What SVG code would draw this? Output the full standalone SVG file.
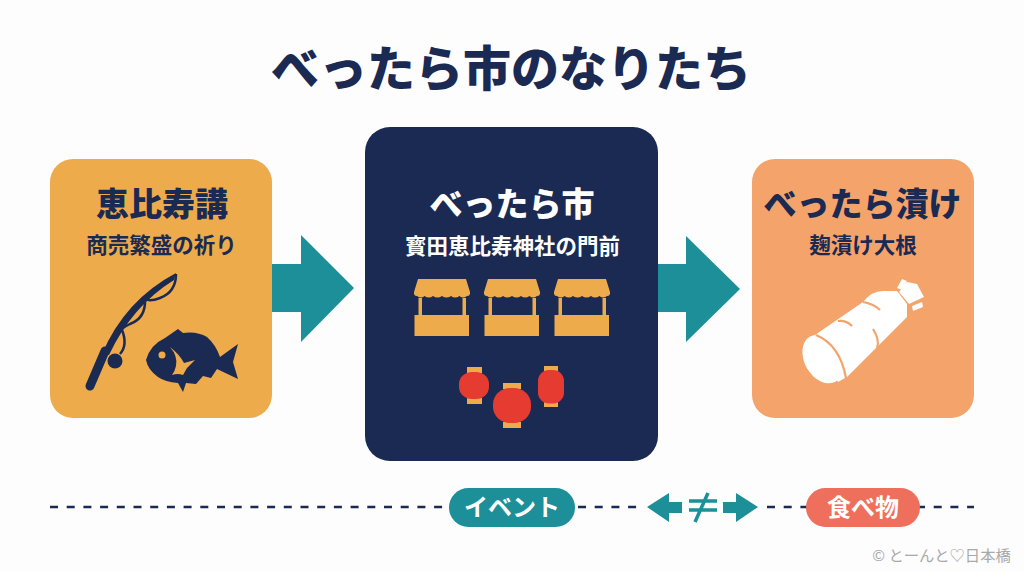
<svg xmlns="http://www.w3.org/2000/svg" width="1024" height="572" viewBox="0 0 1024 572">
<style>
text{font-family:"Noto Sans CJK JP","Noto Sans",sans-serif;text-anchor:middle}
.b{font-weight:900}
.navy{fill:#1b2a52}.wh{fill:#fff}.or{fill:#eeab4b}.teal{fill:#1c8f98}.red{fill:#e53b30}
.t{font-size:33px;font-weight:900}
.s{font-size:21.500px;font-weight:700}
.p{font-size:24px;font-weight:700}
.dash{fill:none;stroke:#1b2a52;stroke-width:2.400;stroke-dasharray:8 8.700}
</style>
<defs>
<g id="stall">
<path class="or" d="M418 279H466L470 292Q470.500 296 467 296Q463 299 459.500 296Q455 299 451 296Q446.500 299 442 296Q437.500 299 433 296Q429 299 424.500 296Q421 299 417 296Q413.500 296 414 292Z"/>
<rect class="or" x="418.500" y="298" width="3.500" height="18"/>
<rect class="or" x="462.500" y="298" width="3.500" height="18"/>
<rect class="or" x="414.500" y="315" width="54.500" height="21"/>
</g>
</defs>
<rect width="1024" height="572" fill="#fdfdfe"/>
<text id="title" class="b navy" x="511" y="86" font-size="48">べったら市のなりたち</text>
<g id="connectors">
<path class="teal" d="M272 264H301V235L354 288L301 342V312H272Z"/>
<path class="teal" d="M658 264H686V236L740 289L686 342V312H658Z"/>
<path class="dash" d="M50 507H452M578 507H637M767 507H808M917 507H974"/>
</g>
<g id="node-ebisuko">
<rect class="or" x="50" y="159" width="222" height="259" rx="23"/>
<text class="t navy" x="162" y="216">恵比寿講</text>
<text class="s navy" x="161.500" y="253">商売繁盛の祈り</text>
<g id="rod">
<path d="M90 386L105 351" fill="none" stroke="#1b2a52" stroke-width="9" stroke-linecap="round"/>
<path d="M102 354Q125 300 176 273L174 280Q132 306 109 355Z" class="navy"/>
<path d="M176 274Q176 292 160 298Q150 302 145 299M145 299Q146 318 130 324Q122 328 120 331M122 330Q128 345 120 354" fill="none" stroke="#1b2a52" stroke-width="2.500"/>
<circle class="navy" cx="115" cy="361" r="7.500"/>
</g>
<g id="fish">
<path class="navy" d="M146 360Q150 345 165 338L178 329L183 333Q197 331 207 337Q216 345 220 357L238 344L233 362L238 379L217 369L211 378L203 376L196 384L186 383L183 392L178 383Q165 382 158 377Q148 370 146 360Z"/>
<circle cx="162" cy="355" r="3.500" fill="#eeab4b"/>
<path d="M170 347Q178 356 176 366Q175 371 172 375Q178 373 183 375L187 368L195 360L184 363Q180 355 170 347Z" fill="#eeab4b"/>
</g>
</g>
<g id="node-market">
<rect class="navy" x="365" y="127" width="293" height="334" rx="25"/>
<text class="t wh" x="512" y="216">べったら市</text>
<text class="s wh" x="512.500" y="254">寳田恵比寿神社の門前</text>
<use href="#stall"/>
<use href="#stall" x="70"/>
<use href="#stall" x="140"/>
<g id="lanterns">
<rect class="or" x="467" y="367" width="15" height="6"/><rect class="or" x="467" y="398" width="15" height="6"/>
<rect class="red" x="459" y="372" width="30" height="27" rx="13" ry="12"/>
<rect class="or" x="503" y="383" width="18" height="6"/><rect class="or" x="503" y="422" width="18" height="6"/>
<rect class="red" x="493" y="388" width="38" height="35" rx="17" ry="16"/>
<rect class="or" x="544" y="366" width="14" height="5"/><rect class="or" x="544" y="402" width="14" height="5"/>
<rect class="red" x="538" y="370" width="26" height="33.500" rx="11"/>
</g>
</g>
<g id="node-tsuke">
<rect x="752" y="159" width="222" height="259" rx="23" fill="#f4a36b"/>
<text class="t navy" x="862.500" y="216">べったら漬け</text>
<text class="s navy" x="863" y="253">麹漬け大根</text>
<g id="daikon">
<path class="wh" d="M815 335L863 302Q872 290 885 291L897 291L907 304L907 317L847 377L838 382Z"/>
<ellipse cx="823" cy="359" rx="18.500" ry="26" transform="rotate(-30 823 359)" class="wh"/>
<path d="M816 335Q840 345 846 378" fill="none" stroke="#f4a36b" stroke-width="2.200"/>
<path d="M863 302Q874 304 880 310M838 321Q846 320 852 326M873 329Q880 340 877 348" fill="none" stroke="#f4a36b" stroke-width="2.200"/>
<path class="wh" d="M899 292L907 282L917 284L924 297L909 304ZM897 288L902 279L907 281L902 290ZM912 306L922 302L923 307L913 311Z"/>
</g>
</g>
<g id="pill-event">
<rect x="449" y="488" width="126" height="39" rx="19.500" fill="#1c8f98"/>
<text class="wh p" x="512" y="516">イベント</text>
</g>
<g id="not-equal">
<path class="teal" d="M647 507L669 493V502H682V513H669V522Z"/>
<path class="teal" d="M758 507L736 493V502H723V513H736V522Z"/>
<path d="M689 501H717M689 510H717M708 493L695 522" fill="none" stroke="#1c8f98" stroke-width="3.500"/>
</g>
<g id="pill-food">
<rect x="806" y="488" width="114" height="39" rx="19.500" fill="#ee6f5c"/>
<text class="wh p" x="863" y="516">食べ物</text>
</g>
<text id="credit" x="941.500" y="561" font-size="15.300" fill="#a9a9a9">© とーんと♡日本橋</text>
</svg>
